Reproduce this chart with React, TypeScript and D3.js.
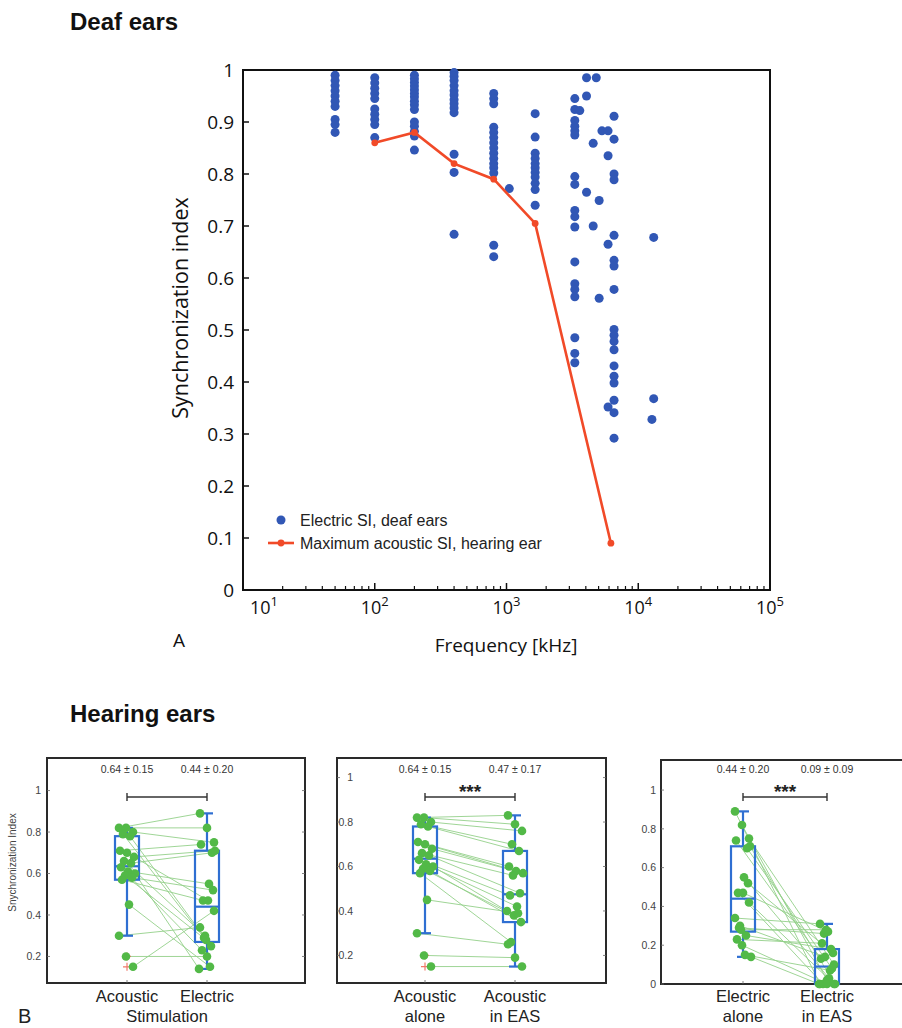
import React from 'react';
import * as d3 from 'd3';

// ---- Deaf ears: electric SI per stimulation frequency (Hz column, values) ----
const electricColumns: [number, number[]][] = [
  [50, [0.99, 0.98, 0.97, 0.96, 0.95, 0.94, 0.93, 0.905, 0.895, 0.88]],
  [100, [0.985, 0.975, 0.965, 0.955, 0.945, 0.925, 0.915, 0.905, 0.895, 0.87]],
  [200, [0.99, 0.983, 0.976, 0.969, 0.962, 0.955, 0.948, 0.94, 0.933, 0.924, 0.9, 0.892, 0.882, 0.873, 0.846]],
  [400, [0.995, 0.988, 0.98, 0.97, 0.96, 0.952, 0.943, 0.935, 0.927, 0.918, 0.838, 0.803, 0.684]],
  [800, [0.955, 0.945, 0.935, 0.89, 0.88, 0.87, 0.86, 0.85, 0.84, 0.83, 0.82, 0.812, 0.802, 0.663, 0.641]],
  [1050, [0.772]],
  [1650, [0.916, 0.871, 0.84, 0.83, 0.82, 0.812, 0.803, 0.794, 0.782, 0.77, 0.74]],
  [3300, [0.945, 0.924, 0.903, 0.892, 0.883, 0.875, 0.795, 0.78, 0.73, 0.718, 0.698, 0.631, 0.589, 0.578, 0.564, 0.485, 0.455, 0.437]],
  [3600, [0.922]],
  [4050, [0.985, 0.95, 0.765]],
  [4550, [0.859, 0.7]],
  [4800, [0.985]],
  [5050, [0.749, 0.561]],
  [5300, [0.883]],
  [5900, [0.883, 0.835, 0.665, 0.352]],
  [6550, [0.911, 0.867, 0.8, 0.789, 0.682, 0.634, 0.623, 0.578, 0.501, 0.49, 0.478, 0.462, 0.431, 0.411, 0.398, 0.365, 0.341, 0.292]],
  [12700, [0.328]],
  [13100, [0.678, 0.368]],
];
const acousticFreqs = [100, 200, 400, 800, 1650, 6200];
const acousticMaxSI = [0.86, 0.88, 0.82, 0.79, 0.705, 0.09];
const siTicks = [0, 0.1, 0.2, 0.3, 0.4, 0.5, 0.6, 0.7, 0.8, 0.9, 1];
const decadeTicks = [10, 100, 1000, 10000, 100000];

// ---- Hearing ears: one entry per subject ----
const acousticAlone = [0.82, 0.82, 0.8, 0.79, 0.78, 0.71, 0.7, 0.68, 0.66, 0.65, 0.63, 0.61, 0.6, 0.59, 0.58, 0.57, 0.45, 0.3, 0.2, 0.15];
const electricAlone = [0.89, 0.82, 0.75, 0.29, 0.25, 0.74, 0.47, 0.71, 0.3, 0.7, 0.23, 0.55, 0.14, 0.28, 0.52, 0.47, 0.15, 0.34, 0.2, 0.42];
const acousticInEAS = [0.83, 0.79, 0.76, 0.7, 0.67, 0.6, 0.58, 0.57, 0.56, 0.48, 0.47, 0.42, 0.4, 0.38, 0.35, 0.26, 0.39, 0.25, 0.19, 0.15];
const electricInEAS = [0, 0.02, 0.1, 0.26, 0.18, 0.13, 0.27, 0, 0.14, 0.08, 0.21, 0.03, 0, 0.28, 0.16, 0, 0.07, 0.31, 0, 0];

// box stats: [lower whisker, q1, median, q3, upper whisker]
const acousticBox = [0.3, 0.57, 0.635, 0.78, 0.82];
const electricBox = [0.14, 0.27, 0.44, 0.71, 0.89];
const acousticEASBox = [0.15, 0.35, 0.475, 0.67, 0.83];
const electricEASBox = [0, 0, 0.09, 0.18, 0.31];
const acousticOutliers = [0.2, 0.15];

const panelTicksA = [0.2, 0.4, 0.6, 0.8, 1];
const panelTicksB = [0, 0.2, 0.4, 0.6, 0.8, 1];

const BLUE = '#3157b5';
const RED = '#f14a28';
const GREEN = '#52b947';
const GREEN_LINE = '#94d08a';
const BOX = '#2f6fd2';
const SANS = '"Open Sans", sans-serif';
const ARIAL = '"Liberation Sans", Arial, sans-serif';

type Series = { name: string; values: number[]; box: number[]; outliers: number[]; stat: string; label: string[] };
type PanelCfg = {
  left: number; right: number; top: number; bottom: number;
  domain: [number, number]; ticks: number[]; tickX: number;
  c0: number; c1: number; a: Series; b: Series; stars: boolean;
  yTitle?: string; xTitle?: string;
};

const jit = (i: number, k: number) => ((((i + k * 5) * 7) % 17) - 8);

function BoxPanel({ p }: { p: PanelCfg }) {
  const y = d3.scaleLinear().domain(p.domain).range([p.bottom, p.top]);
  const x = d3.scalePoint().domain([p.a.name, p.b.name]).range([p.c0, p.c1]);
  const xa = x(p.a.name) as number;
  const xb = x(p.b.name) as number;
  const hw = 12;
  const cap = 6;
  const fmt = (d: number) => (d === 0 || d === 1 ? String(d) : d.toFixed(1));

  const drawBox = (cx: number, s: number[]) => (
    <g stroke={BOX} strokeWidth={2.2} fill="none">
      <line x1={cx} x2={cx} y1={y(s[0])} y2={y(s[1])} />
      <line x1={cx} x2={cx} y1={y(s[3])} y2={y(s[4])} />
      <line x1={cx - cap} x2={cx + cap} y1={y(s[0])} y2={y(s[0])} />
      <line x1={cx - cap} x2={cx + cap} y1={y(s[4])} y2={y(s[4])} />
      <rect x={cx - hw} width={hw * 2} y={y(s[3])} height={y(s[1]) - y(s[3])} />
      <line x1={cx - hw} x2={cx + hw} y1={y(s[2])} y2={y(s[2])} />
    </g>
  );

  const barY = 797;
  return (
    <g>
      <rect x={p.left} y={p.top} width={p.right - p.left} height={p.bottom - p.top} fill="none" stroke="#2a2a2a" strokeWidth={2} />
      {p.ticks.map((t) => (
        <g key={t}>
          <text x={p.tickX} y={y(t)} dy="0.35em" textAnchor="end" fontFamily={ARIAL} fontSize={10.5} fill="#444">{fmt(t)}</text>
          <line x1={p.left} x2={p.left + 3} y1={y(t)} y2={y(t)} stroke="#666" strokeWidth={0.8} />
          <line x1={p.right} x2={p.right - 3} y1={y(t)} y2={y(t)} stroke="#666" strokeWidth={0.8} />
        </g>
      ))}
      {[xa, xb].map((cx) => (
        <line key={cx} x1={cx} x2={cx} y1={p.bottom} y2={p.bottom - 3} stroke="#666" strokeWidth={0.8} />
      ))}
      {p.a.values.map((v, i) => (
        <line key={'l' + i} x1={xa + jit(i, 0)} y1={y(v)} x2={xb + jit(i, 1)} y2={y(p.b.values[i])} stroke={GREEN_LINE} strokeWidth={0.9} />
      ))}
      {[p.a, p.b].map((s, k) =>
        s.outliers.map((v) => (
          <path key={'o' + k + v} d={`M${(k ? xb : xa) - 4},${y(v)}h8M${k ? xb : xa},${y(v) - 4}v8`} stroke="#f07a6a" strokeWidth={1.2} />
        ))
      )}
      {drawBox(xa, p.a.box)}
      {drawBox(xb, p.b.box)}
      {p.a.values.map((v, i) => (
        <circle key={'a' + i} cx={xa + jit(i, 0)} cy={y(v)} r={4.3} fill={GREEN} />
      ))}
      {p.b.values.map((v, i) => (
        <circle key={'b' + i} cx={xb + jit(i, 1)} cy={y(v)} r={4.3} fill={GREEN} />
      ))}
      <text x={xa} y={773} textAnchor="middle" fontFamily={ARIAL} fontSize={10.5} fill="#333">{p.a.stat}</text>
      <text x={xb} y={773} textAnchor="middle" fontFamily={ARIAL} fontSize={10.5} fill="#333">{p.b.stat}</text>
      <g stroke="#333" strokeWidth={1.4}>
        <line x1={xa} x2={xb} y1={barY} y2={barY} />
        <line x1={xa} x2={xa} y1={barY - 4} y2={barY + 4} />
        <line x1={xb} x2={xb} y1={barY - 4} y2={barY + 4} />
      </g>
      {p.stars && (
        <text x={(xa + xb) / 2} y={barY + 1} textAnchor="middle" fontFamily={ARIAL} fontWeight="bold" fontSize={19} fill="#222">***</text>
      )}
      {[p.a, p.b].map((s, k) =>
        s.label.map((ln, j) => (
          <text key={k + ln + j} x={k ? xb : xa} y={1002 + j * 20} textAnchor="middle" fontFamily={ARIAL} fontSize={16.5} fill="#222">{ln}</text>
        ))
      )}
      {p.xTitle && (
        <text x={(xa + xb) / 2} y={1022} textAnchor="middle" fontFamily={ARIAL} fontSize={16.5} fill="#222">{p.xTitle}</text>
      )}
      {p.yTitle && (
        <text transform={`translate(16,${(p.top + p.bottom) / 2 - 8}) rotate(-90)`} textAnchor="middle" fontFamily={ARIAL} fontSize={10} fill="#444">{p.yTitle}</text>
      )}
    </g>
  );
}

export default function App() {
  const x = d3.scaleLog().domain([10, 100000]).range([243, 770]);
  const y = d3.scaleLinear().domain([0, 1]).range([590, 70]);
  const minor = x.ticks().filter((t) => !decadeTicks.includes(t));
  const line = d3.line<number>().x((_, i) => x(acousticFreqs[i])).y((d) => y(d));
  const dots = electricColumns.flatMap(([f, vals]) => vals.map((v) => [f, v] as [number, number]));

  const acoustic: Series = { name: 'Acoustic', values: acousticAlone, box: acousticBox, outliers: acousticOutliers, stat: '0.64 ± 0.15', label: ['Acoustic'] };
  const electric: Series = { name: 'Electric', values: electricAlone, box: electricBox, outliers: [], stat: '0.44 ± 0.20', label: ['Electric'] };
  const panels: PanelCfg[] = [
    { left: 47, right: 305, top: 758, bottom: 983, domain: [0.072, 1.157], ticks: panelTicksA, tickX: 41, c0: 127, c1: 207, a: acoustic, b: electric, stars: false, yTitle: 'Snychronization Index', xTitle: 'Stimulation' },
    { left: 337, right: 606, top: 758, bottom: 983, domain: [0.076, 1.088], ticks: panelTicksA, tickX: 353, c0: 425, c1: 515, stars: true,
      a: { ...acoustic, name: 'alone', label: ['Acoustic', 'alone'] },
      b: { name: 'inEAS', values: acousticInEAS, box: acousticEASBox, outliers: [], stat: '0.47 ± 0.17', label: ['Acoustic', 'in EAS'] } },
    { left: 661, right: 921, top: 760, bottom: 984, domain: [0, 1.155], ticks: panelTicksB, tickX: 656, c0: 743, c1: 827, stars: true,
      a: { ...electric, name: 'alone', label: ['Electric', 'alone'] },
      b: { name: 'inEAS', values: electricInEAS, box: electricEASBox, outliers: [], stat: '0.09 ± 0.09', label: ['Electric', 'in EAS'] } },
  ];

  return (
    <div style={{ position: 'absolute', left: 0, top: 0 }}>
      <svg width={902} height={1028} style={{ display: 'block', background: '#fff' }}>
        <text x={70} y={30} fontFamily={ARIAL} fontWeight="bold" fontSize={24} fill="#111">Deaf ears</text>

        {/* axes frame */}
        <rect x={243} y={70} width={527} height={520} fill="none" stroke="#111" strokeWidth={2} />
        {siTicks.map((t) => (
          <g key={t}>
            <line x1={243} x2={249} y1={y(t)} y2={y(t)} stroke="#111" strokeWidth={1.5} />
            <text x={234} y={y(t)} dy="0.36em" textAnchor="end" fontFamily={SANS} fontSize={19} fill="#111">{t === 0 || t === 1 ? t : t.toFixed(1)}</text>
          </g>
        ))}
        {minor.map((t) => (
          <line key={t} x1={x(t)} x2={x(t)} y1={590} y2={586} stroke="#111" strokeWidth={1.2} />
        ))}
        {decadeTicks.map((t, i) => (
          <g key={t}>
            <line x1={x(t)} x2={x(t)} y1={590} y2={583} stroke="#111" strokeWidth={1.5} />
            <text x={x(t) + (i === 0 ? 21 : 0)} y={614} textAnchor="middle" fontFamily={SANS} fontSize={18} fill="#111">
              10<tspan dy={-8} fontSize={13}>{Math.round(Math.log10(t))}</tspan>
            </text>
          </g>
        ))}
        <text transform="translate(188,308) rotate(-90)" textAnchor="middle" fontFamily={SANS} fontSize={21.5} fill="#111">Synchronization index</text>
        <text x={506} y={652} textAnchor="middle" fontFamily={SANS} fontSize={19} fill="#111">Frequency [kHz]</text>
        <text x={173} y={647} fontFamily={SANS} fontSize={19} fill="#111">A</text>

        {dots.map(([f, v], i) => (
          <circle key={i} cx={x(f)} cy={y(v)} r={4.5} fill={BLUE} />
        ))}
        <path d={line(acousticMaxSI) ?? ''} fill="none" stroke={RED} strokeWidth={2.6} />
        {acousticMaxSI.map((v, i) => (
          <circle key={i} cx={x(acousticFreqs[i])} cy={y(v)} r={3.4} fill={RED} />
        ))}

        {/* legend */}
        <circle cx={281} cy={520} r={4.5} fill={BLUE} />
        <text x={300} y={520} dy="0.35em" fontFamily={ARIAL} fontSize={16} fill="#222">Electric SI, deaf ears</text>
        <line x1={268} x2={294} y1={543} y2={543} stroke={RED} strokeWidth={2.6} />
        <circle cx={281} cy={543} r={3.4} fill={RED} />
        <text x={300} y={543} dy="0.35em" fontFamily={ARIAL} fontSize={16} fill="#222">Maximum acoustic SI, hearing ear</text>

        <text x={70} y={722} fontFamily={ARIAL} fontWeight="bold" fontSize={24} fill="#111">Hearing ears</text>
        {panels.map((p, i) => (
          <BoxPanel key={i} p={p} />
        ))}
        <text x={18} y={1023} fontFamily={ARIAL} fontSize={20} fill="#222">B</text>
      </svg>
    </div>
  );
}
